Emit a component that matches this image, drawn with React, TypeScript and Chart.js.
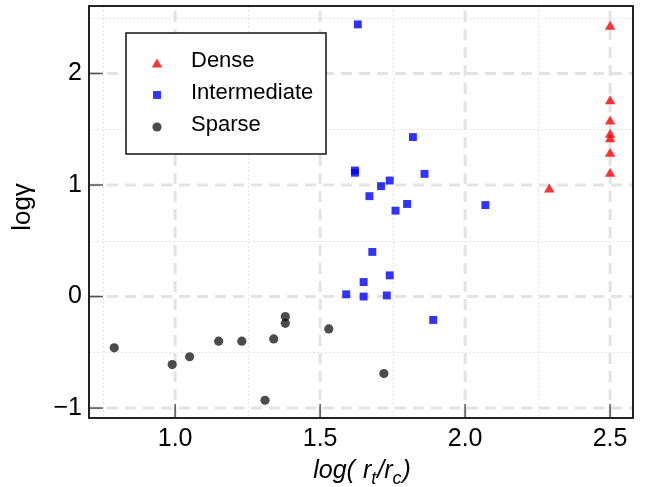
import React, { useEffect, useRef } from "react";
import { Chart, registerables } from "chart.js";
import { drawPoint } from "chart.js/helpers";

Chart.register(...registerables);

// ---- data ----
const denseX = [2.29, 2.5, 2.5, 2.5, 2.5, 2.5, 2.5, 2.5];
const denseY = [0.96, 1.1, 1.28, 1.41, 1.45, 1.57, 1.75, 2.42];
const interX = [1.63, 1.82, 1.62, 1.62, 1.86, 1.74, 1.71, 1.67, 1.8, 1.76, 2.07, 1.68, 1.74, 1.65, 1.59, 1.65, 1.73, 1.89];
const interY = [2.44, 1.43, 1.13, 1.11, 1.1, 1.04, 0.99, 0.9, 0.83, 0.77, 0.82, 0.4, 0.19, 0.13, 0.02, 0.0, 0.01, -0.21];
const sparseX = [0.79, 0.99, 1.05, 1.15, 1.23, 1.34, 1.38, 1.38, 1.53, 1.31, 1.72];
const sparseY = [-0.46, -0.61, -0.54, -0.4, -0.4, -0.38, -0.18, -0.24, -0.29, -0.93, -0.69];
const seriesLabels = ["Dense", "Intermediate", "Sparse"];
const xTicks = [1.0, 1.5, 2.0, 2.5];
const yTicks = [-1, 0, 1, 2];
const xMinor = [0.75, 1.25, 1.75, 2.25];
const yMinor = [-0.5, 0.5, 1.5, 2.5];
const xRange = [0.703, 2.579];
const yRange = [-1.089, 2.605];

const FONT = "'Liberation Sans', Arial, Helvetica, sans-serif";

const pts = (xs: number[], ys: number[]) => xs.map((x, i) => ({ x, y: ys[i] }));

const decorPlugin = {
  id: "decor",
  beforeDatasetsDraw(chart: any) {
    const { ctx, chartArea: a, scales } = chart;
    const xs = scales.x, ys = scales.y;
    ctx.save();
    ctx.beginPath();
    ctx.rect(a.left, a.top, a.right - a.left, a.bottom - a.top);
    ctx.clip();
    // minor dotted grid
    ctx.strokeStyle = "#e6e6e6";
    ctx.lineWidth = 1;
    ctx.setLineDash([2, 2]);
    xMinor.forEach((v) => {
      const p = Math.round(xs.getPixelForValue(v)) + 0.5;
      ctx.beginPath(); ctx.moveTo(p, a.top); ctx.lineTo(p, a.bottom); ctx.stroke();
    });
    yMinor.forEach((v) => {
      const p = Math.round(ys.getPixelForValue(v)) + 0.5;
      ctx.beginPath(); ctx.moveTo(a.left, p); ctx.lineTo(a.right, p); ctx.stroke();
    });
    // major dashed grid
    ctx.strokeStyle = "#e3e3e3";
    ctx.lineWidth = 3;
    ctx.setLineDash([11, 7]);
    xTicks.forEach((v) => {
      const p = xs.getPixelForValue(v);
      ctx.beginPath(); ctx.moveTo(p, a.bottom); ctx.lineTo(p, a.top); ctx.stroke();
    });
    yTicks.forEach((v) => {
      const p = ys.getPixelForValue(v);
      ctx.beginPath(); ctx.moveTo(a.left, p); ctx.lineTo(a.right, p); ctx.stroke();
    });
    ctx.restore();
  },
  afterDatasetsDraw(chart: any) {
    const { ctx, chartArea: a, scales } = chart;
    const xs = scales.x, ys = scales.y;
    ctx.save();
    ctx.setLineDash([]);
    // inward ticks
    ctx.strokeStyle = "#555";
    ctx.lineWidth = 1.5;
    xTicks.forEach((v) => {
      const p = xs.getPixelForValue(v);
      ctx.beginPath(); ctx.moveTo(p, a.bottom); ctx.lineTo(p, a.bottom - 14); ctx.stroke();
    });
    yTicks.forEach((v) => {
      const p = ys.getPixelForValue(v);
      ctx.beginPath(); ctx.moveTo(a.left, p); ctx.lineTo(a.left + 14, p); ctx.stroke();
    });
    // frame
    ctx.strokeStyle = "#222";
    ctx.lineWidth = 2;
    ctx.strokeRect(a.left, a.top, a.right - a.left, a.bottom - a.top);

    // legend
    const lx = 126, ly = 33, lw = 200, lh = 121;
    ctx.fillStyle = "#fff";
    ctx.fillRect(lx, ly, lw, lh);
    ctx.strokeStyle = "#111";
    ctx.lineWidth = 1.5;
    ctx.strokeRect(lx, ly, lw, lh);
    const rows = [63, 95, 127];
    chart.data.datasets.forEach((ds: any, i: number) => {
      ctx.fillStyle = ds.backgroundColor;
      drawPoint(ctx, { pointStyle: ds.pointStyle, radius: ds.pointRadius, rotation: 0, borderWidth: 0 }, 157, rows[i] + (ds.pointStyle === "triangle" ? 1.5 : 0));
      ctx.fillStyle = "#000";
      ctx.font = `22px ${FONT}`;
      ctx.textAlign = "left";
      ctx.textBaseline = "middle";
      ctx.fillText(ds.label, 191, rows[i] - 2);
    });

    // y title
    ctx.save();
    ctx.translate(23, 207);
    ctx.rotate(-Math.PI / 2);
    ctx.fillStyle = "#000";
    ctx.font = `26px ${FONT}`;
    ctx.textAlign = "center";
    ctx.textBaseline = "middle";
    ctx.fillText("logγ", 0, 0);
    ctx.restore();

    // x title with subscripts
    const big = `italic 25px ${FONT}`;
    const small = `italic 18px ${FONT}`;
    const parts: [string, string, number, number][] = [
      ["log(", big, 0, 8],
      ["r", big, 0, 0],
      ["t", small, 6, 1],
      ["/", big, 0, 0],
      ["r", big, 0, 0],
      ["c", small, 6, 1],
      [")", big, 0, 0],
    ];
    let total = 0;
    parts.forEach(([t, f, , g]) => { ctx.font = f; total += ctx.measureText(t).width + g; });
    let cx = 362 - total / 2;
    const baseY = 478;
    ctx.fillStyle = "#000";
    ctx.textAlign = "left";
    ctx.textBaseline = "alphabetic";
    parts.forEach(([t, f, dy, g]) => {
      ctx.font = f;
      ctx.fillText(t, cx, baseY + dy);
      cx += ctx.measureText(t).width + g;
    });
    ctx.restore();
  },
};

export default function App() {
  const ref = useRef<HTMLCanvasElement | null>(null);
  useEffect(() => {
    if (!ref.current) return;
    const chart = new Chart(ref.current, {
      type: "scatter",
      data: {
        datasets: [
          { label: seriesLabels[0], data: pts(denseX, denseY), pointStyle: "triangle", pointRadius: 6, backgroundColor: "rgba(255,0,0,0.8)", pointBorderWidth: 0, borderWidth: 0 },
          { label: seriesLabels[1], data: pts(interX, interY), pointStyle: "rect", pointRadius: 5.6, backgroundColor: "rgba(0,0,255,0.8)", pointBorderWidth: 0, borderWidth: 0 },
          { label: seriesLabels[2], data: pts(sparseX, sparseY), pointStyle: "circle", pointRadius: 4.6, backgroundColor: "rgba(0,0,0,0.7)", pointBorderWidth: 0, borderWidth: 0 },
        ] as any,
      },
      plugins: [decorPlugin],
      options: {
        responsive: false,
        animation: false,
        events: [],
        layout: { padding: { left: 0, top: 3, right: 16, bottom: 0 } },
        plugins: { legend: { display: false }, tooltip: { enabled: false }, title: { display: false } },
        scales: {
          x: {
            type: "linear",
            min: xRange[0],
            max: xRange[1],
            grid: { display: false, drawTicks: false },
            border: { display: false },
            afterBuildTicks: (s: any) => { s.ticks = xTicks.map((v) => ({ value: v })); },
            afterFit: (s: any) => { s.height = 69; s.paddingLeft = 0; s.paddingRight = 0; s.paddingTop = 0; s.paddingBottom = 0; },
            ticks: {
              padding: 6,
              color: "#000",
              font: { family: FONT, size: 25 },
              maxRotation: 0,
              callback: (v: any) => Number(v).toFixed(1),
            },
          },
          y: {
            type: "linear",
            min: yRange[0],
            max: yRange[1],
            grid: { display: false, drawTicks: false },
            border: { display: false },
            afterBuildTicks: (s: any) => { s.ticks = yTicks.map((v) => ({ value: v })); },
            afterFit: (s: any) => { s.width = 89; s.paddingLeft = 0; s.paddingRight = 0; s.paddingTop = 0; s.paddingBottom = 0; },
            ticks: {
              padding: 7,
              color: "#000",
              font: { family: FONT, size: 25 },
              callback: (v: any) => (Number(v) < 0 ? "\u2212" + Math.abs(Number(v)) : String(v)),
            },
          },
        },
      },
    });
    return () => chart.destroy();
  }, []);
  return (
    <div style={{ position: "absolute", left: 0, top: 0, width: 649, height: 487, background: "#fff" }}>
      <canvas ref={ref} width={649} height={487} style={{ display: "block" }} />
    </div>
  );
}
